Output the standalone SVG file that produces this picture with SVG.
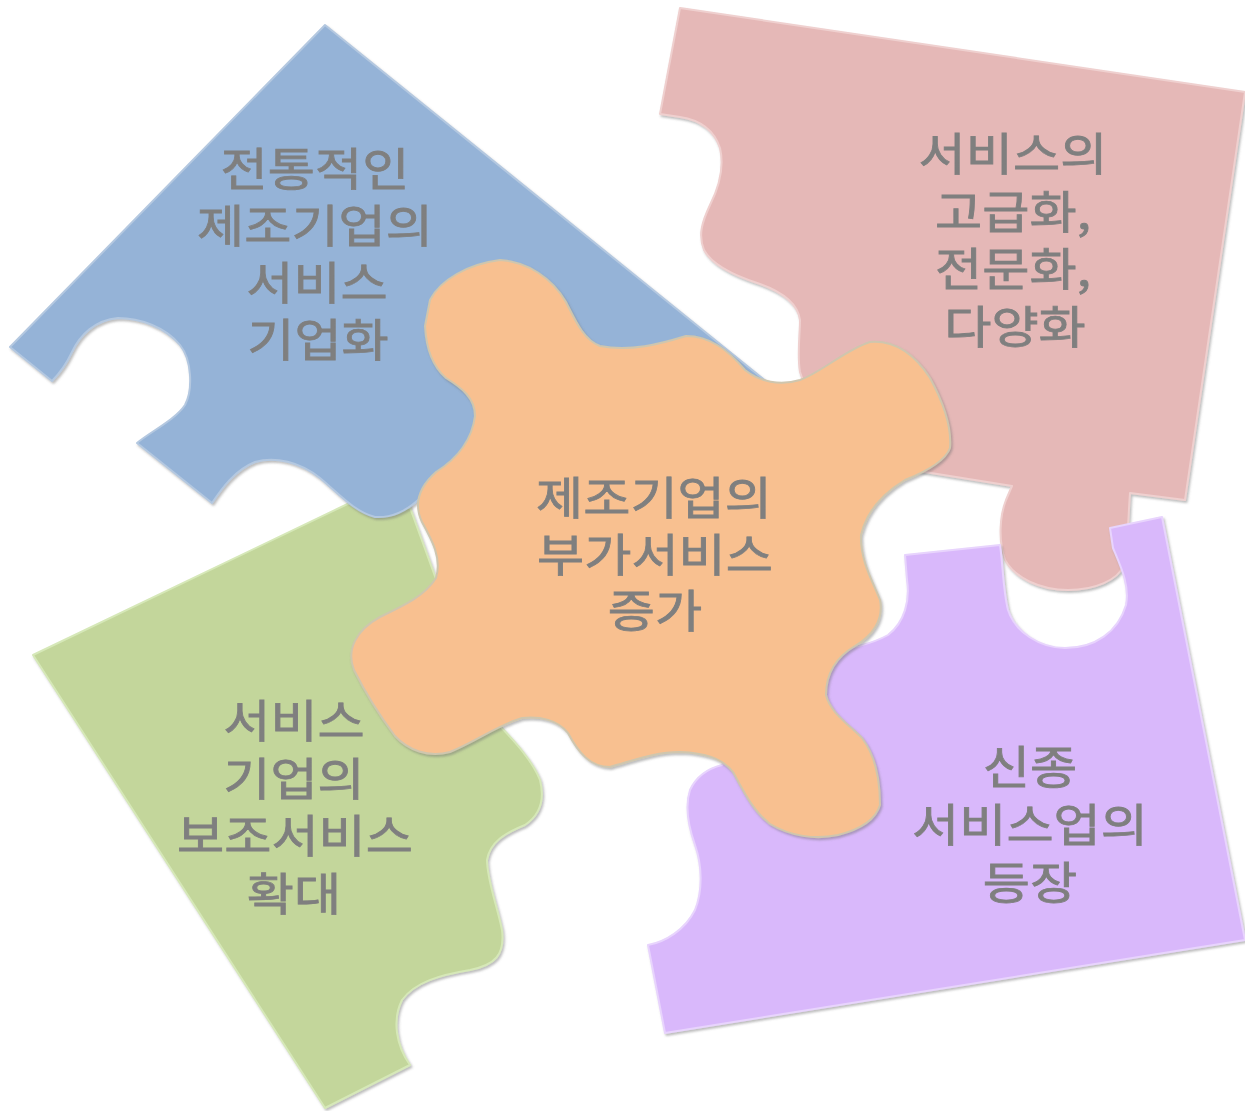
<svg xmlns="http://www.w3.org/2000/svg" width="1245" height="1111" viewBox="0 0 1245 1111">
<style>
.piece{stroke-width:2;stroke-linejoin:round}
.lbl{font-family:"Noto Sans CJK KR","Noto Sans",sans-serif;font-size:45px;fill:#7f7f7f;stroke:#7f7f7f;stroke-width:0.8;text-anchor:middle}
</style>
<defs>
<filter id="sh" x="-5%" y="-5%" width="110%" height="110%">
<feDropShadow dx="1.5" dy="2" stdDeviation="1.2" flood-color="#6e6e6e" flood-opacity="0.45"/>
</filter>
</defs>
<rect width="1245" height="1111" fill="#ffffff"/>
<g id="piece-green" filter="url(#sh)">
<path class="piece" fill="#C3D69B" stroke="#d6e8b8" d="M33,655 L360,498 L400,480 L480,700 L500,726 C515,742 532,760 540,780 C545,800 540,815 525,825 C505,833 490,842 487,860 C487,880 497,905 502,930 C505,955 495,965 470,970 C440,975 415,982 402,1000 C392,1020 396,1045 410,1065 L325,1108 Z"/>
<text class="lbl" transform="translate(294,738) scale(1.14,1)">서비스</text>
<text class="lbl" transform="translate(294,796) scale(1.14,1)">기업의</text>
<text class="lbl" transform="translate(295,853) scale(1.14,1)">보조서비스</text>
<text class="lbl" transform="translate(294,911) scale(1.14,1)">확대</text>
</g>
<g id="piece-blue" filter="url(#sh)">
<path class="piece" fill="#95B3D7" stroke="#b4c8e0" d="M325,25 L767,382 L460,470 L418,500 C405,512 390,518 375,517 C355,512 340,495 320,478 C300,462 275,456 255,462 C235,470 222,488 212,503 L137,443 C150,432 175,420 185,405 C193,390 192,360 180,345 C165,327 140,318 118,318 C95,320 80,335 72,352 C65,367 58,375 52,381 L10,347 Z"/>
<text class="lbl" transform="translate(315,186) scale(1.14,1)">전통적인</text>
<text class="lbl" transform="translate(315,243) scale(1.14,1)">제조기업의</text>
<text class="lbl" transform="translate(317,300) scale(1.14,1)">서비스</text>
<text class="lbl" transform="translate(318,357) scale(1.14,1)">기업화</text>
</g>
<g id="piece-pink" filter="url(#sh)">
<path class="piece" fill="#E5B8B7" stroke="#efd0cf" d="M680,8 L1245,92 L1185,500 L1130,493 C1128,520 1128,545 1124,565 C1118,580 1095,590 1068,590 C1040,590 1015,578 1005,560 C998,540 1000,515 1006,500 L1012,486 L900,468 L820,430 L800,372 C797,355 800,335 800,320 C798,305 785,293 760,284 C735,276 712,265 704,250 C698,235 702,222 710,205 C720,185 724,165 720,148 C714,130 700,120 680,117 L660,114 Z"/>
<text class="lbl" transform="translate(1013,171) scale(1.14,1)">서비스의</text>
<text class="lbl" transform="translate(1013,229) scale(1.14,1)">고급화,</text>
<text class="lbl" transform="translate(1013,286) scale(1.14,1)">전문화,</text>
<text class="lbl" transform="translate(1015,344) scale(1.14,1)">다양화</text>
</g>
<g id="piece-purple" filter="url(#sh)">
<path class="piece" fill="#D9B8FB" stroke="#e8d4fd" d="M905,555 L1000,545 C1003,565 1003,590 1008,610 C1015,632 1040,648 1065,648 C1095,648 1118,632 1126,605 C1130,585 1120,565 1113,548 L1110,528 L1162,517 L1245,940 L665,1033 L648,945 C665,942 685,930 695,910 C703,890 702,865 695,845 C688,825 685,805 690,790 C697,775 710,768 722,765 L760,700 L826,652 C850,648 870,645 888,635 C905,622 910,600 907,580 Z"/>
<text class="lbl" transform="translate(1030,784) scale(1.14,1)">신종</text>
<text class="lbl" transform="translate(1030,842) scale(1.14,1)">서비스업의</text>
<text class="lbl" transform="translate(1030,900) scale(1.14,1)">등장</text>
</g>
<g id="piece-orange" filter="url(#sh)">
<path class="piece" fill="#F8C090" stroke="#cfc6ae" d="M430,300 C440,280 468,264 500,260 C528,262 552,278 566,302 C576,322 584,340 600,346 C630,352 660,344 686,336 C710,336 728,350 745,370 C760,382 780,386 800,380 C822,372 845,350 870,342 C895,340 915,355 930,378 C942,400 952,425 950,448 C945,462 925,472 905,480 C885,492 867,510 861,535 C860,560 872,580 880,600 C884,620 872,636 855,646 C838,656 826,672 826,695 C830,712 848,724 862,738 C875,755 880,780 880,805 C875,822 858,830 838,835 C815,840 790,836 770,824 C752,810 743,790 733,772 C722,758 705,753 680,752 C655,752 635,760 610,767 C590,767 578,752 568,733 C558,720 540,716 522,718 C498,725 475,742 450,752 C428,758 408,750 395,736 C380,716 365,692 354,670 C346,650 356,630 380,617 C403,606 425,596 436,578 C442,558 432,540 422,522 C414,505 418,488 436,472 C458,458 472,440 475,416 C475,398 462,388 446,378 C432,366 426,346 425,326 Z"/>
<text class="lbl" transform="translate(654,515) scale(1.14,1)">제조기업의</text>
<text class="lbl" transform="translate(655,572) scale(1.14,1)">부가서비스</text>
<text class="lbl" transform="translate(655,628) scale(1.14,1)">증가</text>
</g>
<g id="connectors"></g>
</svg>
